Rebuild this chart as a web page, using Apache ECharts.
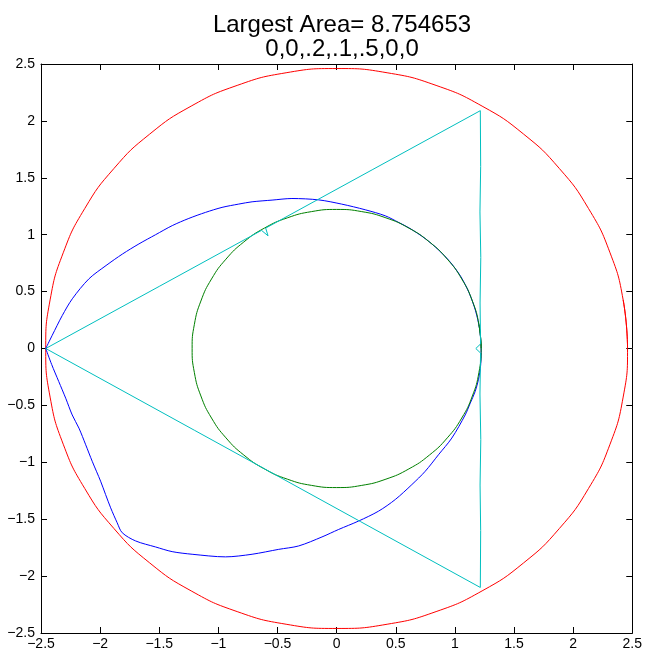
<!DOCTYPE html>
<html>
<head>
<meta charset="utf-8">
<script src="https://cdn.jsdelivr.net/npm/echarts@6/dist/echarts.min.js"></script>
<style>html,body{margin:0;padding:0;background:#fff;}#c{width:645px;height:651px;}</style>
</head>
<body>
<div id="c"></div>
<script>
var titleLine1 = 'Largest Area= 8.754653';
var titleLine2 = '0,0,.2,.1,.5,0,0';
var axisMin = -2.5, axisMax = 2.5, axisStep = 0.5;

var redCircle = [[2.46,0],[2.423,0.427],[2.312,0.841],[2.13,1.23],[1.884,1.581],[1.581,1.884],[1.23,2.13],[0.841,2.312],[0.427,2.423],[0,2.46],[-0.427,2.423],[-0.841,2.312],[-1.23,2.13],[-1.581,1.884],[-1.884,1.581],[-2.13,1.23],[-2.312,0.841],[-2.423,0.427],[-2.46,0],[-2.423,-0.427],[-2.312,-0.841],[-2.13,-1.23],[-1.884,-1.581],[-1.581,-1.884],[-1.23,-2.13],[-0.841,-2.312],[-0.427,-2.423],[0,-2.46],[0.427,-2.423],[0.841,-2.312],[1.23,-2.13],[1.581,-1.884],[1.884,-1.581],[2.13,-1.23],[2.312,-0.841],[2.423,-0.427],[2.46,0],[2.423,0.427]];

var greenCircle = [[1.222,0],[1.203,0.212],[1.148,0.417],[1.058,0.611],[0.936,0.785],[0.785,0.936],[0.611,1.058],[0.417,1.148],[0.212,1.203],[0,1.222],[-0.212,1.203],[-0.417,1.148],[-0.611,1.058],[-0.785,0.936],[-0.936,0.785],[-1.058,0.611],[-1.148,0.417],[-1.203,0.212],[-1.222,0],[-1.203,-0.212],[-1.148,-0.417],[-1.058,-0.611],[-0.936,-0.785],[-0.785,-0.936],[-0.611,-1.058],[-0.417,-1.148],[-0.212,-1.203],[0,-1.222],[0.212,-1.203],[0.417,-1.148],[0.611,-1.058],[0.785,-0.936],[0.936,-0.785],[1.058,-0.611],[1.148,-0.417],[1.203,-0.212],[1.222,0],[1.203,0.212]];

var cyanPath = [[-2.46,0],[-1.5,0.546],[-0.635,1.038],[-0.58,0.99],[-0.60,1.058],[0.3,1.57],[1.215,2.09],[1.218,1.6],[1.212,1.2],[1.219,0.8],[1.213,0.4],[1.217,0.04],[1.177,0],[1.217,-0.04],[1.212,-0.4],[1.219,-0.8],[1.213,-1.2],[1.218,-1.6],[1.215,-2.1],[0.2,-1.52],[-1.2,-0.72],[-2.46,0]];

var bluePath = [[-2.46,0],[-2.405,0.116],[-2.32,0.29],[-2.235,0.437],[-2.095,0.612],[-1.95,0.729],[-1.81,0.831],[-1.672,0.919],[-1.531,1.0],[-1.39,1.08],[-1.25,1.143],[-1.109,1.196],[-0.969,1.24],[-0.828,1.269],[-0.715,1.289],[-0.546,1.304],[-0.378,1.318],[-0.152,1.306],[0.042,1.269],[0.242,1.219],[0.411,1.166],[0.524,1.108],[0.62,1.055],[0.75,0.965],[0.86,0.868],[0.96,0.76],[1.05,0.632],[1.12,0.49],[1.175,0.33],[1.208,0.175],[1.222,0.0],[1.218,-0.146],[1.2,-0.27],[1.171,-0.379],[1.13,-0.48],[1.087,-0.584],[0.974,-0.787],[0.861,-0.934],[0.749,-1.079],[0.636,-1.196],[0.496,-1.327],[0.355,-1.429],[0.186,-1.516],[0.017,-1.59],[-0.124,-1.656],[-0.321,-1.735],[-0.49,-1.765],[-0.715,-1.808],[-0.94,-1.831],[-1.222,-1.808],[-1.391,-1.785],[-1.531,-1.744],[-1.7,-1.691],[-1.813,-1.619],[-1.856,-1.531],[-1.911,-1.4],[-1.954,-1.283],[-1.996,-1.166],[-2.067,-0.991],[-2.122,-0.846],[-2.179,-0.7],[-2.236,-0.584],[-2.291,-0.437],[-2.35,-0.29],[-2.41,-0.14],[-2.46,0]];

var FONT = "'Liberation Sans', Arial, Helvetica, sans-serif";
function fmt(v){ return String(v).replace('-', '\u2212'); }

function mkAxis(pos, showLabel, isX){
  return {
    type: 'value', position: pos, min: axisMin, max: axisMax, interval: axisStep,
    splitLine: {show: false},
    axisLine: {show: true, onZero: false, lineStyle: {color: '#000', width: 1}},
    axisTick: {show: true, inside: true, length: 6, lineStyle: {color: '#000', width: 1}},
    axisLabel: {show: showLabel, color: '#000', fontSize: 14, fontFamily: FONT, margin: isX ? 4 : 6,
      showMinLabel: true, showMaxLabel: true, formatter: fmt}
  };
}

var chart = echarts.init(document.getElementById('c'), null, {renderer: 'canvas'});
function lineSeries(name, data, color, smooth){
  return {name: name, type: 'line', data: data, showSymbol: false, symbol: 'none',
    xAxisIndex: 0, yAxisIndex: 0, animation: false, clip: true, smooth: smooth || false,
    lineStyle: {color: color, width: 1}};
}
chart.setOption({
  animation: false,
  backgroundColor: '#fff',
  title: {
    text: titleLine1 + '\n' + titleLine2,
    left: 337, top: 8, textAlign: 'center',
    textStyle: {fontSize: 24, fontWeight: 'normal', color: '#000', fontFamily: FONT, lineHeight: 24}
  },
  grid: {left: 41, right: 12, top: 64, bottom: 15, containLabel: false},
  xAxis: [mkAxis('bottom', true, true), mkAxis('top', false, true)],
  yAxis: [mkAxis('left', true, false), mkAxis('right', false, false)],
  series: [
    lineSeries('red', redCircle, '#ff0000', 0.5),
    lineSeries('blue', bluePath, '#0000ff', 0.3),
    lineSeries('green', greenCircle, '#008000', 0.5),
    lineSeries('cyan', cyanPath, '#00bfbf', false)
  ]
});
</script>
</body>
</html>
